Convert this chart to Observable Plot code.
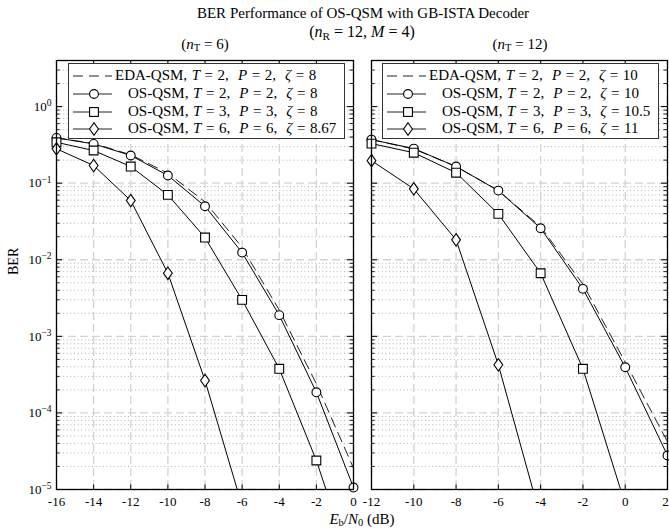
<!DOCTYPE html>
<html><head><meta charset="utf-8">
<script src="https://cdn.jsdelivr.net/npm/d3@7"></script>
<script src="https://cdn.jsdelivr.net/npm/@observablehq/plot@0.6"></script>
<style>
body{margin:0;background:#fff;}
#wrap{position:relative;width:669px;height:529px;overflow:hidden;font-family:"Liberation Serif","DejaVu Serif",serif;color:#000;}
.abs{position:absolute;white-space:nowrap;line-height:1;}
.ctr{transform:translate(-50%,-50%);}
.legend{position:absolute;border:1.3px solid #333;background:#fff;box-sizing:border-box;}
.row{position:absolute;left:0;height:18px;width:100%;}
.row svg{position:absolute;left:0;top:0;}
.row span{position:absolute;top:0px;font-size:15px;white-space:nowrap;word-spacing:0.8px;}
sub{font-size:0.7em;vertical-align:-0.25em;line-height:0;}
</style></head><body><div id="wrap"></div>
<script>
// ---- data ----
const snrLeft = [-16, -14, -12, -10, -8, -6, -4, -2, 0];
const edaLeft = [0.39, 0.33, 0.235, 0.135, 0.057, 0.0145, 2.2e-3, 2.4e-4, 1.9e-5];
const os2Left = [0.39, 0.326, 0.23, 0.126, 0.050, 0.0124, 1.89e-3, 1.86e-4, 1.06e-5];
const os3Left = [0.342, 0.267, 0.165, 0.0703, 0.0195, 2.99e-3, 3.77e-4, 2.39e-5, 8.3e-7];
const os6Left = [0.281, 0.170, 0.0593, 6.67e-3, 2.65e-4, 6.1e-6];

const snrRight = [-12, -10, -8, -6, -4, -2, 0, 2];
const edaRight = [0.37, 0.28, 0.165, 0.08, 0.027, 4.8e-3, 4.6e-4, 4.2e-5];
const os2Right = [0.371, 0.283, 0.165, 0.080, 0.0258, 4.17e-3, 3.95e-4, 2.78e-5];
const os3Right = [0.329, 0.25, 0.137, 0.0397, 6.67e-3, 3.77e-4, 6.4e-6];
const os6Right = [0.197, 0.0843, 0.0182, 4.25e-4, 4.3e-6];

const xTicksLeft = [-16, -14, -12, -10, -8, -6, -4, -2, 0];
const xTicksRight = [-12, -10, -8, -6, -4, -2, 0, 2];
const yDomain = [1e-5, 4];
const majorY = [1e-5, 1e-4, 1e-3, 1e-2, 1e-1, 1];
const minorMult = [2, 3, 4, 5, 6, 7, 8, 9];

const legendLeft = [
  {kind: "eda", name: "EDA-QSM", T: 2, P: 2, z: "8"},
  {kind: "circle", name: "OS-QSM", T: 2, P: 2, z: "8"},
  {kind: "square", name: "OS-QSM", T: 3, P: 3, z: "8"},
  {kind: "diamond", name: "OS-QSM", T: 6, P: 6, z: "8.67"}
];
const legendRight = [
  {kind: "eda", name: "EDA-QSM", T: 2, P: 2, z: "10"},
  {kind: "circle", name: "OS-QSM", T: 2, P: 2, z: "10"},
  {kind: "square", name: "OS-QSM", T: 3, P: 3, z: "10.5"},
  {kind: "diamond", name: "OS-QSM", T: 6, P: 6, z: "11"}
];

// ---- helpers ----
const minorY = [];
for (let e = -5; e <= 0; e++) for (const m of minorMult) { const v = m * Math.pow(10, e); if (v <= yDomain[1]) minorY.push(v); }

const sqSym = {draw(c){ c.moveTo(-4.4,-4.4); c.lineTo(4.4,-4.4); c.lineTo(4.4,4.4); c.lineTo(-4.4,4.4); c.closePath(); }};
const dmSym = {draw(c){ c.moveTo(0,-6.2); c.lineTo(4.4,0); c.lineTo(0,6.2); c.lineTo(-4.4,0); c.closePath(); }};
const ciSym = {draw(c){ c.moveTo(4.4,0); c.arc(0,0,4.4,0,2*Math.PI); c.closePath(); }};

const rows = (xs, vs) => vs.map((v, i) => ({x: xs[i], y: v}));
const inDom = d => d.y >= yDomain[0] * 0.97;

const H = 529, mT = 60, mB = 40;

function panel({xs, eda, os2, os3, os6, xTicks, width, mL, mR, showY}) {
  const innerW = width - mL - mR, innerH = H - mT - mB;
  const lineOpt = {x: "x", y: "y", stroke: "#000", strokeWidth: 1, clip: true};
  const dotOpt = {x: "x", y: "y", fill: "#fff", stroke: "#000", strokeWidth: 1.1};
  const d2 = rows(xs, os2), d3r = rows(xs, os3), d6 = rows(xs, os6), de = rows(xs, eda);
  const lastX = xTicks[xTicks.length - 1];
  const marks = [
    Plot.ruleY(minorY, {stroke: "#9a9a9a", strokeDasharray: "1,2.6", strokeWidth: 0.8}),
    Plot.ruleY(majorY, {stroke: "#d2d2d2", strokeDasharray: "8,4", strokeWidth: 1.3}),
    Plot.ruleX(xTicks, {stroke: "#d2d2d2", strokeDasharray: "8,4", strokeWidth: 1.3}),
    // inward tick marks
    Plot.ruleY(majorY, {insetRight: innerW - 6, stroke: "#000", strokeWidth: 1}),
    Plot.ruleY(majorY, {insetLeft: innerW - 6, stroke: "#000", strokeWidth: 1}),
    Plot.ruleY(minorY, {insetRight: innerW - 3.5, stroke: "#000", strokeWidth: 0.9}),
    Plot.ruleY(minorY, {insetLeft: innerW - 3.5, stroke: "#000", strokeWidth: 0.9}),
    Plot.ruleX(xTicks, {insetTop: innerH - 4.5, stroke: "#000", strokeWidth: 1}),
    Plot.ruleX(xTicks, {insetBottom: innerH - 4.5, stroke: "#000", strokeWidth: 1}),
    // series
    Plot.line(de, {...lineOpt, stroke: "#222", strokeDasharray: "10,6"}),
    Plot.line(d2, lineOpt),
    Plot.line(d3r, lineOpt),
    Plot.line(d6, lineOpt),
    Plot.dot(d2.filter(inDom), {...dotOpt, symbol: ciSym}),
    Plot.dot(d3r.filter(inDom), {...dotOpt, symbol: sqSym}),
    Plot.dot(d6.filter(inDom), {...dotOpt, symbol: dmSym}),
    Plot.frame({stroke: "#000", strokeWidth: 1.3}),
    Plot.axisX(showY ? xTicks : xTicks.filter(d => d !== lastX), {tickSize: 0, tickPadding: 7, tickFormat: d => String(d), fontSize: 13, label: null})
  ];
  if (!showY) marks.push(Plot.axisX([lastX], {tickSize: 0, tickPadding: 7, dx: -2, tickFormat: d => String(d), fontSize: 13, label: null}));
  if (showY) {
    marks.push(Plot.axisY(majorY, {tickSize: 0, tickPadding: 5, fontSize: 13, label: null,
      tickFormat: d => String(Math.round(Math.log10(d)))}));
    marks.push(Plot.text(["BER"], {frameAnchor: "left", dx: -43, rotate: -90, fontSize: 14, text: d => d}));
  }
  const svg = Plot.plot({
    width, height: H, marginLeft: mL, marginRight: mR, marginTop: mT, marginBottom: mB,
    x: {domain: [xTicks[0], lastX], axis: null},
    y: {type: "log", domain: yDomain, axis: null},
    style: {fontFamily: "Liberation Serif, DejaVu Serif, serif", color: "#000", background: "transparent", overflow: "visible"},
    marks
  });
  if (showY) {
    d3.select(svg).selectAll('g[aria-label="y-axis tick label"] text').each(function() {
      const t = d3.select(this);
      const e = t.text();
      t.text("");
      t.append("tspan").text("10");
      t.append("tspan").attr("dy", "-0.5em").attr("font-size", "9.5px").text(e === "0" ? "0" : e.replace("-", "\u2212"));
    });
  }
  return svg;
}

const wrap = document.getElementById("wrap");
const left = panel({xs: snrLeft, eda: edaLeft, os2: os2Left, os3: os3Left, os6: os6Left, xTicks: xTicksLeft, width: 362, mL: 56, mR: 9, showY: true});
left.style.position = "absolute"; left.style.left = "0px"; left.style.top = "0px";
wrap.appendChild(left);
const right = panel({xs: snrRight, eda: edaRight, os2: os2Right, os3: os3Right, os6: os6Right, xTicks: xTicksRight, width: 307, mL: 9, mR: 2, showY: false});
right.style.position = "absolute"; right.style.left = "362px"; right.style.top = "0px";
wrap.appendChild(right);

function addText(html, x, y, size) {
  const d = document.createElement("div");
  d.className = "abs ctr"; d.style.left = x + "px"; d.style.top = y + "px"; d.style.fontSize = size + "px";
  d.innerHTML = html; wrap.appendChild(d);
}
addText("BER Performance of OS-QSM with GB-ISTA Decoder", 363, 13, 15);
addText("(<i>n</i><sub>R</sub> = 12, <i>M</i> = 4)", 362, 32, 16);
addText("(<i>n</i><sub>T</sub> = 6)", 205, 44, 15);
addText("(<i>n</i><sub>T</sub> = 12)", 520, 44, 15);
addText("<i>E</i><sub>b</sub>/<i>N</i><sub>0</sub> (dB)", 362, 519, 15);

function symbolSvg(kind) {
  const dash = kind === "eda" ? ' stroke-dasharray="10,6"' : "";
  let s = `<svg width="46" height="18"><line x1="4" x2="43" y1="9" y2="9" stroke="#222" stroke-width="1"${dash}/>`;
  if (kind === "circle") s += `<circle cx="25" cy="9" r="4.4" fill="#fff" stroke="#000" stroke-width="1.1"/>`;
  if (kind === "square") s += `<rect x="20.6" y="4.6" width="8.8" height="8.8" fill="#fff" stroke="#000" stroke-width="1.1"/>`;
  if (kind === "diamond") s += `<path d="M25,2.8L29.4,9L25,15.2L20.6,9Z" fill="#fff" stroke="#000" stroke-width="1.1"/>`;
  return s + "</svg>";
}
function addLegend(items, x, y, w, h) {
  const box = document.createElement("div");
  box.className = "legend";
  Object.assign(box.style, {left: x + "px", top: y + "px", width: w + "px", height: h + "px"});
  items.forEach((it, i) => {
    const r = document.createElement("div");
    r.className = "row"; r.style.top = (3 + i * 17.8) + "px";
    const tx = it.kind === "eda" ? 46 : 59;
    r.innerHTML = symbolSvg(it.kind) +
      `<span style="left:${tx}px">${it.name}, <i>T</i> = ${it.T},&nbsp; <i>P</i> = ${it.P},&nbsp; <i>ζ</i> = ${it.z}</span>`;
    box.appendChild(r);
  });
  wrap.appendChild(box);
}
addLegend(legendLeft, 68, 63, 277, 76);
addLegend(legendRight, 382, 63, 277, 76);
</script></body></html>
